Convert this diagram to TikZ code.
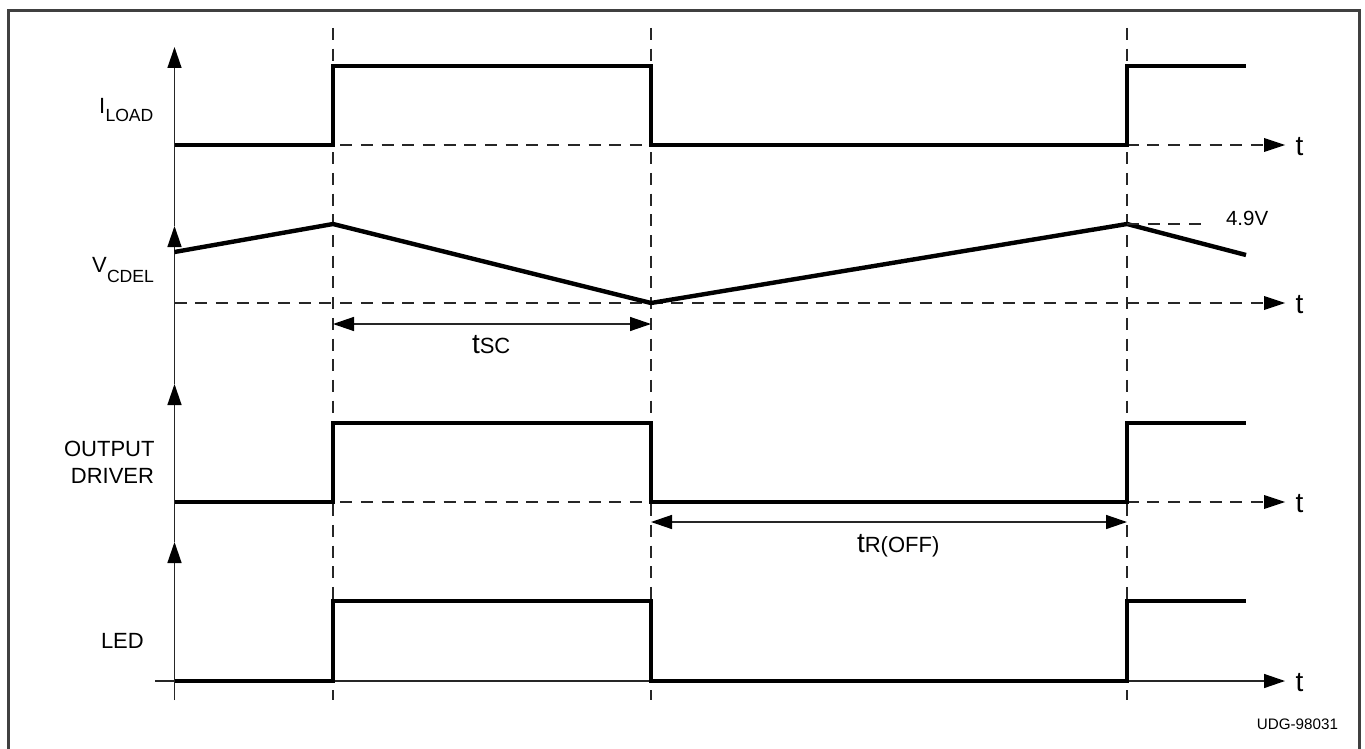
\documentclass[tikz,border=0pt]{standalone}
\usepackage{fontspec}
\setmainfont{Liberation Sans}
\usetikzlibrary{arrows.meta}
\newcommand{\fs}[1]{\fontsize{#1}{#1}\selectfont}
\tikzset{
  x=1pt,y=-1pt,
  wave/.style={line width=4.4pt,black,line join=miter},
  thin line/.style={line width=1.4pt,color=black!85},
  dash line/.style={line width=1.3pt,color=black!85,dash pattern=on 12pt off 8.7pt},
  blacktip/.tip={Triangle[length=21pt,width=14pt,color=black,fill=black]},
  axisarrow/.style={-blacktip},
  dim/.style={blacktip-blacktip},
  lbl/.style={inner sep=0pt,outer sep=0pt,anchor=base},
}
\begin{document}
\begin{tikzpicture}
\useasboundingbox (0,0) rectangle (1365,749);
\fill[white] (0,0) rectangle (1365,749);
\draw[line width=3pt,color=black!75] (8.5,749) -- (8.5,10.5) -- (1359,10.5) -- (1359,749);
% coordinates
\foreach \n/\x in {a/174.5,b/333,c/651,d/1127}{
  \coordinate (\n top) at (\x,28);
  \coordinate (\n bot) at (\x,700);
}
\coordinate (axtop) at (174.5,47);
\coordinate (axbot) at (174.5,700);
\coordinate (ax2) at (174.5,226);
\coordinate (ax3) at (174.5,384);
\coordinate (ax4) at (174.5,542);
% vertical dashed
\draw[dash line] (btop) -- (bbot);
\draw[dash line] (ctop) -- (cbot);
\draw[dash line] (dtop) -- (dbot);
% y axes
\draw[thin line,axisarrow] (axbot) -- (ax4);
\draw[thin line,axisarrow] (ax4) -- (ax3);
\draw[thin line,axisarrow] (ax3) -- (ax2);
\draw[thin line,axisarrow] (ax2) -- (axtop);
% baselines
\foreach \n/\y in {one/145,two/303,three/502}{
  \coordinate (\n s) at (174.5,\y);
  \coordinate (\n e) at (1285,\y);
  \draw[dash line] (\n s) -- (1264,\y);
  \fill[black] (1264,\y-7) -- (\n e) -- (1264,\y+7) -- cycle;
  \node[lbl] at (1299.5,\y+10) {\fs{28}t};
}
\coordinate (led s) at (155,681);
\coordinate (led e) at (1285,681);
\draw[thin line,-blacktip] (led s) -- (led e);
\node[lbl] at (1299.5,691) {\fs{28}t};
% waves
\draw[wave] (174.5,145) -- (333,145) -- (333,66) -- (651,66) -- (651,145) -- (1127,145) -- (1127,66) -- (1246,66);
\draw[wave] (174.5,252) -- (333,224) -- (651,303) -- (1127,224) -- (1246,255);
\draw[wave] (174.5,502) -- (333,502) -- (333,423) -- (651,423) -- (651,502) -- (1127,502) -- (1127,423) -- (1246,423);
\draw[wave] (174.5,681) -- (333,681) -- (333,601) -- (651,601) -- (651,681) -- (1127,681) -- (1127,601) -- (1246,601);
% 4.9V
\draw[dash line] (1127,224) -- (1202,224);
\node[lbl,anchor=base west] at (1226,225) {\fs{20.5}4.9V};
% dimension arrows
\coordinate (sc l) at (333,324);
\coordinate (sc r) at (651,324);
\coordinate (ro l) at (651,522);
\coordinate (ro r) at (1127,522);
\draw[thin line,dim] (sc l) -- (sc r);
\draw[thin line,dim] (ro l) -- (ro r);
\node[lbl,anchor=base west] at (472,353) {\fs{28}t\fs{22}SC};
\node[lbl,anchor=base west] at (857,552) {\fs{28}t\fs{22}R(OFF)};
% labels
\node[lbl,anchor=base west] at (99,114) {\fs{22}I};
\node[lbl,anchor=base west] at (105.5,122) {\fs{17.6}LOAD};
\node[lbl,anchor=base west] at (92,272) {\fs{22}V};
\node[lbl,anchor=base west] at (107,282) {\fs{17.6}CDEL};
\node[lbl,anchor=base east] at (154.5,456) {\fs{22}OUTPUT};
\node[lbl,anchor=base east] at (154,483) {\fs{22}DRIVER};
\node[lbl,anchor=base west] at (101,648) {\fs{22}LED};
\node[lbl,anchor=base east] at (1338,729) {\fs{15.2}UDG-98031};
\end{tikzpicture}
\end{document}
